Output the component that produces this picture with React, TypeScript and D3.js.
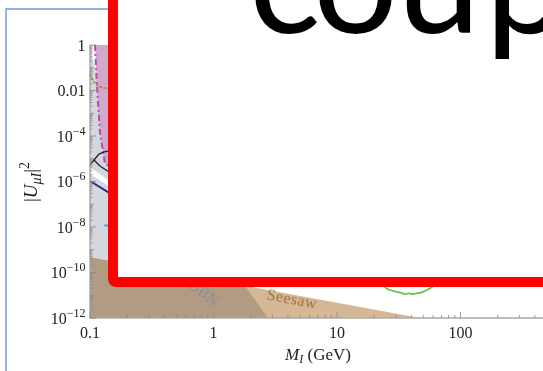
import React, { useEffect } from 'react';
import * as d3 from 'd3';

// y tick labels: [mantissa, exponent]
const yTickValues = [1, 1e-2, 1e-4, 1e-6, 1e-8, 1e-10, 1e-12];
const yTickLabels = [['1', ''], ['0.01', ''], ['10', '−4'], ['10', '−6'], ['10', '−8'], ['10', '−10'], ['10', '−12']];
const xTickValues = [0.1, 1, 10, 100];
const xTickLabels = ['0.1', '1', '10', '100'];

// excluded / theory regions, M_I in GeV vs |U|^2
const bbnMass = [0.1, 0.1, 0.115, 2.76];
const bbnU2 = [1e-12, 1, 0.03, 1e-12];
const seesawMass = [0.1, 0.1, 47];
const seesawU2 = [1e-12, 4.7e-10, 1e-12];
const ps191Mass = [0.1097, 0.114, 0.1205, 0.132, 0.145, 0.211, 0.4, 0.4];
const ps191U2 = [1, 0.0143, 1.35e-4, 6.5e-6, 4.4e-6, 2.6e-6, 2e-6, 1];

// curves
const orangeMass = [0.1, 0.1077, 0.116, 0.1302, 0.16];
const orangeU2 = [0.048, 0.0237, 0.0158, 0.0129, 0.0122];
const blackAMass = [0.1, 0.1077, 0.1183, 0.1298, 0.1594];
const blackAU2 = [5.3e-6, 8.8e-6, 1.6e-5, 2.0e-5, 2.4e-5];
const blackBMass = [0.1077, 0.1205, 0.1348, 0.1594];
const blackBU2 = [8.8e-6, 4.8e-6, 3.2e-6, 1.75e-6];
const bandMass = [0.1, 0.1594];
const bandUpper = [4.3e-6, 7.0e-7];
const bandLower = [2.1e-6, 4.2e-7];
const navyMass = [0.1, 0.1398, 0.1594];
const navyU2 = [1.05e-6, 3.45e-7, 2.3e-7];
const cyanMass = [0.1305, 0.15];
const cyanU2 = [1.2e-8, 1.1e-8];
const greenMass = [24.5, 26.9, 28.6, 30.6, 33.0, 35.6, 38.2, 41.2, 44.0, 47.0, 50.0, 53.5, 58.8, 62, 55, 40, 28, 24.5];
const greenU2 = [2.3e-11, 1.7e-11, 1.55e-11, 1.39e-11, 1.3e-11, 1.13e-11, 1.2e-11, 1.13e-11, 1.22e-11, 1.26e-11, 1.45e-11, 1.7e-11, 2.3e-11, 5e-11, 1.2e-10, 2e-10, 1e-10, 2.3e-11];

const zip = (a: number[], b: number[]) => a.map((v, i) => [v, b[i]] as [number, number]);

export default function App() {
  useEffect(() => {
    document.body.style.margin = '0';
  }, []);

  const x = d3.scaleLog().domain([0.1, 1000]).range([90, 584]);
  const y = d3.scaleLog().domain([1e-12, 1]).range([318, 45]);
  const line = d3.line<[number, number]>().x(d => x(d[0])).y(d => y(d[1]));

  const bandPts = [...zip(bandMass, bandUpper), ...zip(bandMass, bandLower).reverse()];

  const serif = 'Liberation Serif, Times New Roman, serif';
  const xMinor = x.ticks(60);
  const yMinor = y.ticks(60);

  return (
    <svg width={543} height={371} style={{ display: 'block' }} fontFamily={serif}>
      <rect width={543} height={371} fill="#fff" />
      {/* slide frame */}
      <rect x={6} y={9} width={700} height={500} fill="none" stroke="#6b9edc" strokeWidth={1.5} />

      {/* regions */}
      <path d={line(zip(bbnMass, bbnU2)) + 'Z'} fill="#d5d7df" />
      <path d={line(zip(seesawMass, seesawU2)) + 'Z'} fill="#d4b896" style={{ mixBlendMode: 'multiply' }} />
      <path d={line(zip(ps191Mass, ps191U2)) + 'Z'} fill="#cfaacb" />
      <path d={line(zip(ps191Mass.slice(0, 7), ps191U2.slice(0, 7))) || ''} fill="none" stroke="#c544b8" strokeWidth={2} strokeDasharray="6,3,2,3" />
      <path d={line(bandPts) + 'Z'} fill="#fff" />

      {/* curves */}
      <path d={line(zip(orangeMass, orangeU2)) || ''} fill="none" stroke="#c0803c" strokeWidth={2} strokeDasharray="1,3" strokeLinecap="round" />
      <path d={line(zip(blackAMass, blackAU2)) || ''} fill="none" stroke="#222" strokeWidth={1.3} />
      <path d={line(zip(blackBMass, blackBU2)) || ''} fill="none" stroke="#222" strokeWidth={1.3} />
      <path d={line(zip(navyMass, navyU2)) || ''} fill="none" stroke="#2b2d86" strokeWidth={2} />
      <path d={line(zip(cyanMass, cyanU2)) || ''} fill="none" stroke="#4aa3e0" strokeWidth={2} />
      <path d={d3.line<[number, number]>().x(d => x(d[0])).y(d => y(d[1])).curve(d3.curveCatmullRomClosed)(zip(greenMass.slice(0, -1), greenU2.slice(0, -1))) || ''} fill="none" stroke="#6cc24a" strokeWidth={1.8} />

      {/* region labels */}
      <text transform={`translate(291,304) rotate(10.5)`} textAnchor="middle" fontSize={16} fill="#a5733f" letterSpacing={0.5}>Seesaw</text>
      <text transform={`translate(201,297) rotate(37)`} textAnchor="middle" fontSize={16} fill="#8d8f9f">BBN</text>

      {/* axes */}
      <line x1={90} x2={543} y1={318} y2={318} stroke="#aaa" strokeWidth={1.5} />
      <line x1={90} x2={90} y1={45} y2={318} stroke="#aaa" strokeWidth={1.5} />
      {xMinor.map((t, i) => {
        const major = Math.abs(Math.log10(t) - Math.round(Math.log10(t))) < 1e-6;
        return <line key={'xt' + i} x1={x(t)} x2={x(t)} y1={318} y2={318 - (major ? 6 : 3)} stroke="#888" strokeWidth={0.8} />;
      })}
      {yMinor.map((t, i) => {
        const lg = Math.log10(t);
        const decade = Math.abs(lg - Math.round(lg)) < 1e-6;
        const len = decade ? (Math.round(lg) % 2 === 0 ? 6 : 4) : 2.5;
        return <line key={'yt' + i} x1={90} x2={90 + len} y1={y(t)} y2={y(t)} stroke="#888" strokeWidth={0.8} />;
      })}
      {xTickValues.map((t, i) => (
        <text key={'xl' + i} x={x(t)} y={338} textAnchor="middle" fontSize={16} fill="#222">{xTickLabels[i]}</text>
      ))}
      {yTickValues.map((t, i) => (
        <text key={'yl' + i} x={85.5} y={y(t) + 5.5} textAnchor="end" fontSize={16} fill="#222">
          {yTickLabels[i][0]}
          {yTickLabels[i][1] && <tspan dy={-7} fontSize={12}>{yTickLabels[i][1]}</tspan>}
        </text>
      ))}
      <text x={318} y={360} textAnchor="middle" fontSize={17} fill="#222">
        <tspan fontStyle="italic">M</tspan>
        <tspan fontStyle="italic" fontSize={12} dy={3}>I</tspan>
        <tspan dy={-3}> (GeV)</tspan>
      </text>
      <text transform="translate(37,182) rotate(-90)" textAnchor="middle" fontSize={19} fill="#222">
        |<tspan fontStyle="italic">U</tspan>
        <tspan fontStyle="italic" fontSize={14} dy={4}>μI</tspan>
        <tspan dy={-4}>|</tspan>
        <tspan fontSize={14} dy={-8}>2</tspan>
      </text>

      {/* overlay box */}
      <rect x={113} y={-60} width={600} height={342} fill="#fff" stroke="#ff0000" strokeWidth={10} rx={3} />
      <text x={[249, 313, 397, 485].join(' ')} y={33} fontFamily="Lato, Carlito, sans-serif" fontSize={150} fill="#000">coup</text>
    </svg>
  );
}
